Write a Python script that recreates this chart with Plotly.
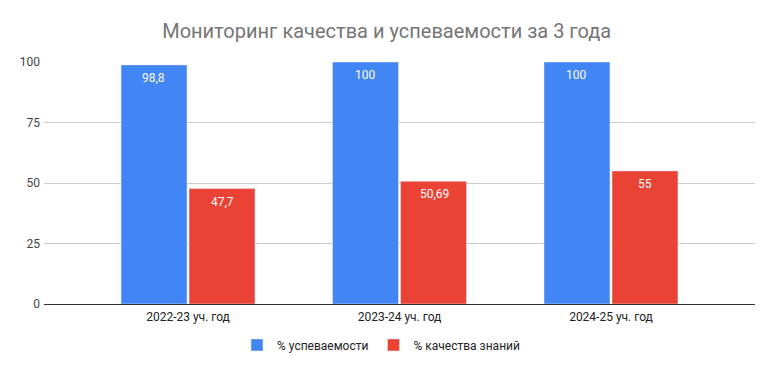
import plotly.graph_objects as go

categories = ["2022-23 уч. год", "2023-24 уч. год", "2024-25 уч. год"]
uspev = [98.8, 100, 100]
kachestvo = [47.7, 50.69, 55]
uspev_labels = ["98,8", "100", "100"]
kach_labels = ["47,7", "50,69", "55"]
y_ticks = [0, 25, 50, 75, 100]

fig = go.Figure()
fig.add_trace(go.Bar(x=categories, y=uspev, name="% успеваемости", marker_color="#4285F4"))
fig.add_trace(go.Bar(x=categories, y=kachestvo, name="% качества знаний", marker_color="#EA4335"))

# value labels inside bar tops
for labels, vals, shift in [(uspev_labels, uspev, -34.5), (kach_labels, kachestvo, 34.5)]:
    for c, v, t in zip(categories, vals, labels):
        fig.add_annotation(x=c, y=v, text=t, showarrow=False, xref="x", yref="y",
                           xshift=shift, yshift=-13, yanchor="middle",
                           font=dict(color="white", size=12, family="Roboto"))

fig.update_layout(
    width=764, height=363,
    margin=dict(l=36, r=17, t=54, b=67),
    paper_bgcolor="white", plot_bgcolor="white",
    font=dict(family="Roboto", size=12, color="#222222"),
    title=dict(text="Мониторинг качества и успеваемости за 3 года", x=0.482, xanchor="center",
               xref="paper", y=0.937, yanchor="middle",
               font=dict(size=20, color="#757575", family="Roboto")),
    barmode="group", bargap=0.357, bargroupgap=0.03,
    showlegend=True,
    legend=dict(orientation="h", x=0.474, xanchor="center", y=-0.169, yanchor="middle",
                font=dict(size=12, color="#222222"), itemwidth=30),
)
fig.update_xaxes(range=[-0.681, 2.681], showgrid=False, ticks="", tickfont=dict(size=12, color="#222222"),
                 showline=False, zeroline=False, automargin=False, ticklabelstandoff=4)
fig.update_yaxes(range=[0, 100], tickvals=y_ticks, gridcolor="#cccccc", gridwidth=1,
                 zeroline=True, zerolinecolor="#333333", zerolinewidth=1, automargin=False,
                 tickfont=dict(size=12, color="#444444"), ticks="", ticklabelstandoff=3)

fig.write_html("out.html")
